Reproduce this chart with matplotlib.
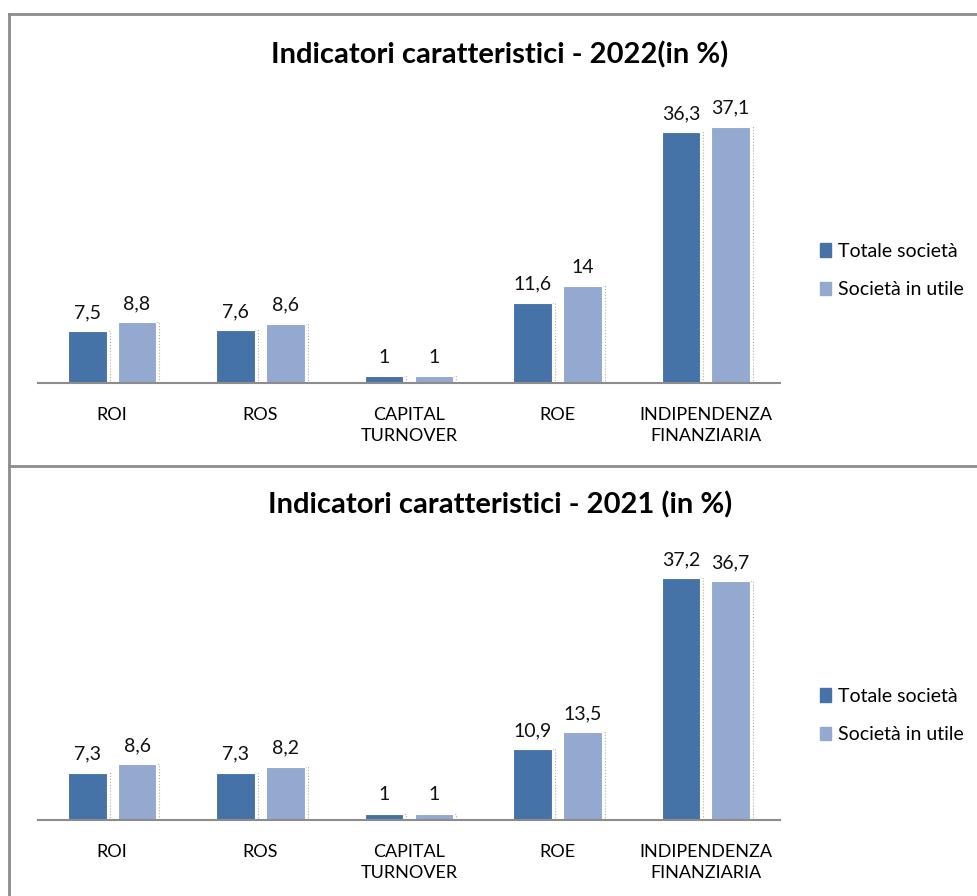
import numpy as np
import matplotlib.pyplot as plt
from matplotlib.lines import Line2D

# Data
categories = ["ROI", "ROS", "CAPITAL\nTURNOVER", "ROE", "INDIPENDENZA\nFINANZIARIA"]
series_names = ["Totale società", "Società in utile"]
totale_2022 = [7.5, 7.6, 1, 11.6, 36.3]
utile_2022 = [8.8, 8.6, 1, 14, 37.1]
totale_2021 = [7.3, 7.3, 1, 10.9, 37.2]
utile_2021 = [8.6, 8.2, 1, 13.5, 36.7]

dark_blue = "#4572a7"
light_blue = "#93a9cf"
border_gray = "#8c8c8c"

plt.rcParams["font.family"] = ["Lato", "DejaVu Sans"]

W, H = 978, 896
fig = plt.figure(figsize=(W / 100, H / 100), dpi=100)


def px_axes(x0, y_top, x1, y_base):
    # convert pixel box (top-left origin) to figure fraction
    return fig.add_axes([x0 / W, 1 - y_base / H, (x1 - x0) / W, (y_base - y_top) / H])


def fmt(v):
    return ("%g" % v).replace(".", ",")


def draw_panel(ax, totale, utile, ymax, title, title_y, leg_y):
    x = np.arange(len(categories))
    w = 0.26
    gap = 0.075
    for off, vals, col in [(-(w + gap) / 2, totale, dark_blue), ((w + gap) / 2, utile, light_blue)]:
        # faint dotted shadow on the right of each bar
        ax.bar(x + off + 0.02, vals, w, facecolor="none", edgecolor="#b0b0b0",
               linewidth=0.8, linestyle=":", zorder=1)
        bars = ax.bar(x + off, vals, w, color=col, edgecolor="white", linewidth=0.8, zorder=2)
        for b, v in zip(bars, vals):
            ax.text(b.get_x() + b.get_width() / 2, v + ymax * 0.035, fmt(v),
                    ha="center", va="bottom", fontsize=14, color="#111111")
    ax.set_xlim(-0.5, len(categories) - 0.5)
    ax.set_ylim(0, ymax)
    ax.set_yticks([])
    ax.set_xticks(x)
    ax.set_xticklabels(categories, fontsize=13, linespacing=1.45)
    ax.tick_params(axis="x", length=0, pad=17)
    for s in ["top", "right", "left"]:
        ax.spines[s].set_visible(False)
    ax.spines["bottom"].set_color(border_gray)
    ax.spines["bottom"].set_linewidth(1.5)
    ax.spines["bottom"].set_zorder(3)
    fig.text(500 / W, 1 - title_y / H, title, ha="center", va="center",
             fontsize=21, fontweight="bold")
    handles = [plt.Rectangle((0, 0), 1, 1, color=dark_blue),
               plt.Rectangle((0, 0), 1, 1, color=light_blue)]
    ax.legend(handles, series_names, loc="center left", bbox_to_anchor=(1.03, leg_y),
              frameon=False, fontsize=14, handlelength=0.6, handleheight=0.7,
              handletextpad=0.35, labelspacing=1.1)


ax1 = px_axes(38, 95, 780, 383)
draw_panel(ax1, totale_2022, utile_2022, 288 / 6.91,
           "Indicatori caratteristici - 2022(in %)", 55, 0.39)

ax2 = px_axes(38, 530, 780, 820)
draw_panel(ax2, totale_2021, utile_2021, 290 / 6.5,
           "Indicatori caratteristici - 2021 (in %)", 505, 0.36)

# Frame lines around the two panels
for xs, ys in [([9, 9], [14, H]), ([9, W], [14, 14]), ([9, W], [466, 466])]:
    fig.add_artist(Line2D([x / W for x in xs], [1 - y / H for y in ys],
                          color=border_gray, linewidth=2))

fig.savefig("out.png", dpi=100)
